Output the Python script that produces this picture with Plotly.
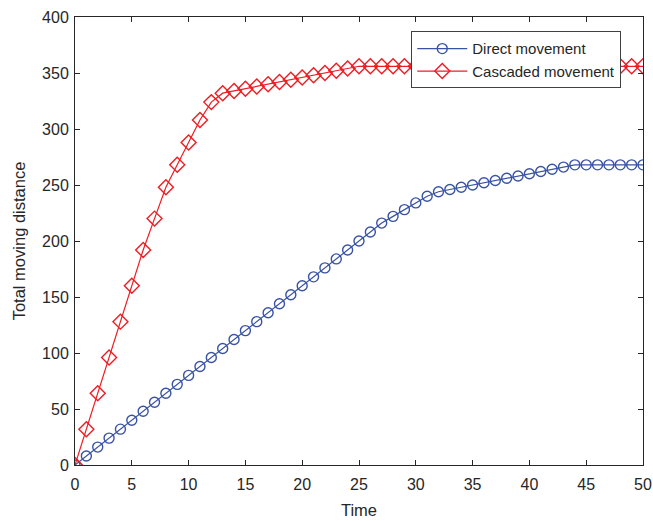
import plotly.graph_objects as go

time = list(range(0, 51))
direct = [0, 8, 16, 24, 32, 40, 48, 56, 64, 72, 80, 88, 96, 104, 112, 120, 128, 136, 144, 152,
          160, 168, 176, 184, 192, 200, 208, 216, 222, 228, 234, 240, 244, 246, 248, 250, 252,
          254, 256, 258, 260, 262, 264, 266, 268, 268, 268, 268, 268, 268, 268]
cascaded = [0, 32, 64, 96, 128, 160, 192, 220, 248, 268, 288, 308, 324, 332, 334, 336, 338, 340,
            342, 344, 346, 348, 350, 352, 354, 356, 356, 356, 356, 356, 356, 356, 356, 356, 356,
            356, 356, 356, 356, 356, 356, 356, 356, 356, 356, 356, 356, 356, 356, 356, 356]
x_ticks = [0, 5, 10, 15, 20, 25, 30, 35, 40, 45, 50]
y_ticks = [0, 50, 100, 150, 200, 250, 300, 350, 400]

BLUE = "#3953a4"
RED = "#ee1d23"
FONT = "Liberation Sans, Arial, sans-serif"
TXT = "#262626"

fig = go.Figure()
fig.add_trace(go.Scatter(
    x=time, y=direct, mode="lines+markers", name="Direct movement",
    line=dict(color=BLUE, width=1.2),
    marker=dict(symbol="circle-open", size=10, color=BLUE, line=dict(width=1.4, color=BLUE)),
))
fig.add_trace(go.Scatter(
    x=time, y=cascaded, mode="lines+markers", name="Cascaded movement",
    line=dict(color=RED, width=1.2),
    marker=dict(symbol="diamond-open", size=11.5, color=RED, line=dict(width=1.4, color=RED)),
))

axis_common = dict(
    showline=True, linecolor=TXT, linewidth=1, mirror="ticks",
    ticks="inside", ticklen=5, tickcolor=TXT, tickwidth=1,
    showgrid=False, zeroline=False, automargin=False,
    tickfont=dict(family=FONT, size=16, color=TXT),
)

fig.update_layout(
    width=653, height=521,
    margin=dict(l=75, r=10, t=17, b=56),
    paper_bgcolor="white", plot_bgcolor="white",
    font=dict(family=FONT, color=TXT),
    showlegend=True,
    legend=dict(
        x=0.592, y=0.968, xanchor="left", yanchor="top",
        bgcolor="white", bordercolor="#404040", borderwidth=1,
        font=dict(family=FONT, size=15, color=TXT),
        tracegroupgap=0, itemwidth=50,
    ),
)
fig.update_xaxes(
    range=[0, 50], tickvals=x_ticks, ticktext=[str(v) for v in x_ticks],
    ticklabelstandoff=5,
    title=dict(text="Time", font=dict(family=FONT, size=16.5, color=TXT), standoff=12),
    **axis_common,
)
fig.update_yaxes(
    range=[0, 400], tickvals=y_ticks, ticktext=[str(v) for v in y_ticks],
    ticklabelstandoff=2,
    title=dict(text="Total moving distance", font=dict(family=FONT, size=16.5, color=TXT), standoff=12),
    **axis_common,
)

fig.write_html("out.html")
